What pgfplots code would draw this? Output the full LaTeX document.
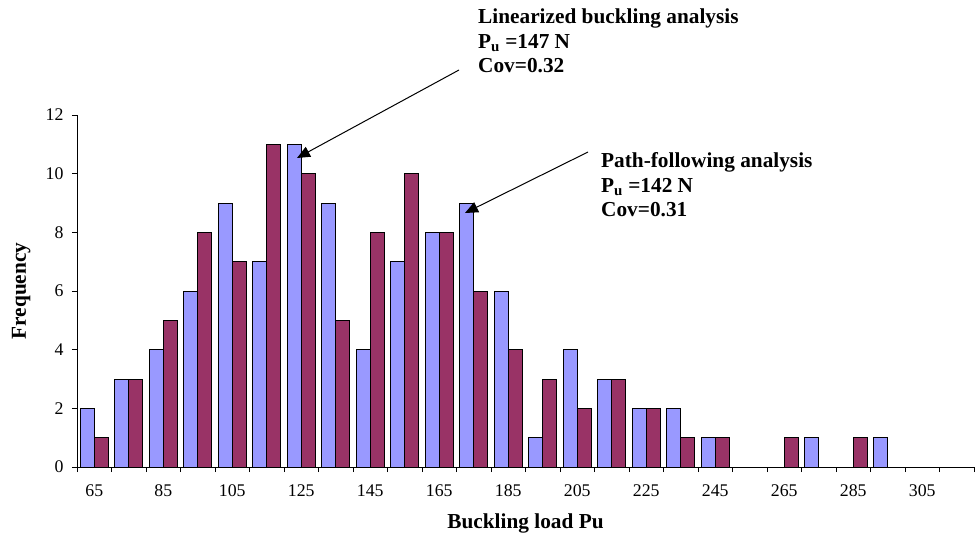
\documentclass[border=0pt]{standalone}
\usepackage{fontspec}
\setmainfont{Liberation Serif}
\usepackage{pgfplots}
\pgfplotsset{compat=1.18}
\usetikzlibrary{arrows.meta}
\definecolor{barblue}{HTML}{9999FF}
\definecolor{barred}{HTML}{993366}
\newcommand{\tickfont}{\fontsize{17.8}{20}\selectfont}
\newcommand{\labfont}{\fontsize{21.3}{24.5}\selectfont\bfseries}
\begin{document}
\begin{tikzpicture}
\path[use as bounding box] (0pt,0pt) rectangle (976pt,536pt);
\begin{axis}[
  at={(77pt,69pt)}, anchor=south west,
  scale only axis, width=897pt, height=352pt,
  xmin=-0.5, xmax=25.5, ymin=0, ymax=12,
  axis x line=bottom, axis y line=left,
  axis line style={-, line width=0.9pt, black},
  tick align=outside,
  tick style={black, line width=0.9pt},
  major tick length=5pt,
  ytick={0,2,...,12},
  yticklabel style={xshift=-5pt},
  xtick={-0.5,0.5,...,25.5},
  xticklabels={},
  extra x ticks={0,2,...,24},
  extra x tick labels={65,85,105,125,145,165,185,205,225,245,265,285,305},
  extra x tick style={major tick length=0pt, tick label style={yshift=-14pt}},
  /pgf/number format/assume math mode=true,
  tick label style={font=\tickfont},
  ybar=0pt, bar width=14pt,
  xlabel={Buckling load Pu},
  ylabel={Frequency},
  xlabel style={font=\labfont, at={(axis description cs:0.5,-0.1733)}, anchor=base},
  ylabel style={font=\labfont, at={(axis description cs:-0.0569,0.5)}, anchor=base},
  clip=false,
]
\addplot[fill=barblue, draw=black, line width=1pt] coordinates {
(0,2)(1,3)(2,4)(3,6)(4,9)(5,7)(6,11)(7,9)(8,4)(9,7)(10,8)(11,9)(12,6)(13,1)(14,4)(15,3)(16,2)(17,2)(18,1)(21,1)(23,1)};
\addplot[fill=barred, draw=black, line width=1pt] coordinates {
(0,1)(1,3)(2,5)(3,8)(4,7)(5,11)(6,10)(7,5)(8,8)(9,10)(10,8)(11,6)(12,4)(13,3)(14,2)(15,3)(16,2)(17,1)(18,1)(20,1)(22,1)};
\end{axis}
\begin{scope}[every node/.style={font=\labfont, anchor=base west, inner sep=0pt}]
\node at (478pt,512pt) {Linearized buckling analysis};
\node at (478pt,487.5pt) {P\textsubscript{u} =147 N};
\node at (478pt,463pt) {Cov=0.32};
\node at (601pt,368pt) {Path-following analysis};
\node at (601pt,343.5pt) {P\textsubscript{u} =142 N};
\node at (601pt,319pt) {Cov=0.31};
\end{scope}
\draw[line width=1pt, -{Triangle[length=13pt,width=11pt]}] (459pt,466pt) -- (297pt,378pt);
\draw[line width=1pt, -{Triangle[length=13pt,width=11pt]}] (588pt,384pt) -- (465pt,323pt);
\end{tikzpicture}
\end{document}
